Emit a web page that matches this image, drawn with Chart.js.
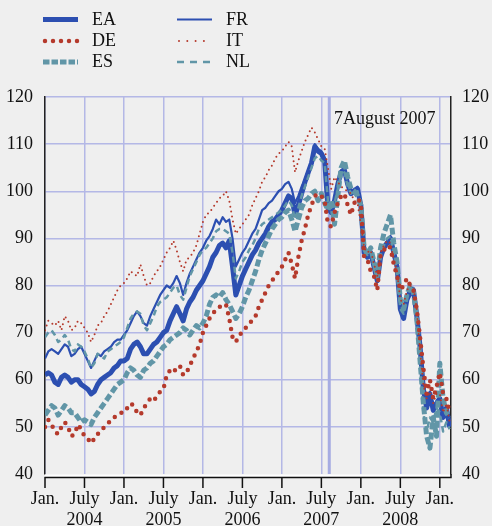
<!DOCTYPE html>
<html><head><meta charset="utf-8">
<script src="https://cdn.jsdelivr.net/npm/chart.js@4.4.1/dist/chart.umd.min.js"></script>
<style>html,body{margin:0;padding:0;background:#efefef;}#wrap{width:492px;height:526px;}</style>
</head><body><div id="wrap"><canvas id="c" width="492" height="526"></canvas></div>
<script>
// Stock price indices, values on the 1st and 16th of each month, Jan 2004 - Feb 2009
const EA = [
 61,61.5, 61,59.5, 59,60.5, 61,60.5, 59.5,60, 60,59, 58.5,58, 57,57.5, 59,60, 60.5,61, 61.5,62.5, 63,64,
 64,64.5, 66.5,67.5, 68,67, 65.5,65.5, 66.5,67.5, 68,69, 70,70.5, 72.5,74, 75.5,74, 72.5,75, 76.5,77.5, 79,80,
 81,82.5, 84,86, 87,88.5, 89,88, 89.5,84, 78,80, 82,83.5, 85,86.5, 87.5,89, 90,91, 92.5,93.5, 94,95,
 96,97.5, 99,98.5, 95,97, 99.5,102, 104,106, 109.5,108.5, 108,106.5, 96.5,95.5, 98,101.5, 104,104.5, 101.5,99.5, 100,100.5,
 97,87, 86,87, 84,81, 86,88, 89,90, 87,84, 75,73, 77,78.5, 79,73.5, 67,58, 54,57, 53.5,55,
 56,52, 54,50];
const FR = [
 64.5,66, 66.5,66, 65.5,66.5, 67.5,67, 65,65.5, 66.5,67, 65.5,64, 62.5,64, 65.5,65, 66,66.5, 67,68, 68.5,68.5,
 69.5,70.5, 72,73.5, 74.5,73.5, 72,71.5, 73.5,75, 76.5,78, 79,80, 79.5,80.5, 82,80.5, 78,80.5, 82.5,84, 85.5,87,
 88,89.5, 90.5,92, 94,93, 94.5,93.5, 94,90, 84,85.5, 87,88, 89.5,91, 92,94, 96,96.5, 97.5,98, 99,100,
 100.5,101.5, 102,100.5, 97.5,99, 101,102.5, 104.5,106.5, 110,109, 108.5,107, 97,96, 98.5,102, 104.5,105, 102,100, 100.5,101,
 97.5,87.5, 86.5,87.5, 84.5,81.5, 86.5,88.5, 89.5,90.5, 87.5,84.5, 76,74, 78,79.5, 79.5,74, 67.5,58.5, 54.5,57.5, 54,55.5,
 56.5,52.5, 54.5,50.5];
const DE = [
 50,51.5, 50.5,49, 48.5,50, 51,50, 48,48.5, 50.5,49.5, 48,47.5, 46.5,47.5, 48.5,49, 50,50.5, 51.5,52, 52.5,53,
 53,54, 55,54.5, 53,52.5, 54,55, 56,55.5, 56.5,57.5, 58,61, 62,61.5, 62.5,63, 61,61.5, 63,64.5, 66,67.5,
 70,71.5, 73,74, 75,75.5, 75.5,76, 73,69, 68,69.5, 70,71, 72,72.5, 73.5,75.5, 77,78.5, 80,81, 82,83,
 84,85.5, 87,84.5, 81.5,86, 89.5,92, 95,97, 99,99.5, 99,98, 93,92.5, 95.5,97.5, 99,99.5, 97,95, 97.5,98.5,
 97.5,86, 85.5,83, 82,79, 86.5,87.5, 88.5,88, 84.5,82, 79,80, 81.5,80, 79,75, 69,62.5, 57,60, 56,58.5,
 61.5,57, 56,53];
const IT = [
 70.5,72.5, 72,71.5, 72.5,70.5, 73.5,72.5, 70.5,71, 72.5,72, 71,70, 68,69.5, 71.5,72, 73.5,74.5, 76,77.5, 79,80,
 80.5,81.5, 83,82.5, 82,84.5, 82,80, 80.5,82, 83,84, 85.5,87, 88,89.5, 87.5,85, 83,85.5, 86,87, 88.5,91,
 93.5,95, 95.5,96.5, 97.5,98.5, 99,100, 98,94, 91,92, 93,94, 95,97, 98.5,100, 102,103, 104.5,105.5, 107,108,
 108.5,109.5, 110.5,109.5, 104,106.5, 108.5,110.5, 112,113.5, 112.5,111, 109.5,109, 105,100.5, 103,102, 101,100.5, 100,99.5, 98,97.5,
 93,88, 87,87.5, 84.5,82, 87,88.5, 89.5,89, 85.5,83, 77,76, 79,80, 79.5,75, 66,59, 56,57.5, 55,57,
 57,53, 55,51];
const ES = [
 52.5,53.5, 54.5,54, 52.5,53.5, 54.5,54, 53,53, 52,51, 51.5,51, 50.5,52, 53,54, 55,56, 57,58, 59,59.5,
 60,61.5, 62.5,62, 61,60.5, 62,62.5, 63.5,64, 65,66, 67,67.5, 68.5,69, 69.5,70, 71,70.5, 69.5,70.5, 71.5,71,
 72,73.5, 76,77.5, 78,77.5, 78.5,77, 76,74.5, 73,74, 75.5,77.5, 79,81, 83,85.5, 87.5,89, 90.5,92, 93,94,
 94.5,95.5, 96,94, 91.5,94, 96.5,98, 98.5,99.5, 100,98, 99.5,97.5, 96,98, 93,99, 105,106.5, 103,100.5, 100,99,
 97,88, 86.5,88, 85,82, 88,91, 93,95, 89,85, 77,75, 78,80, 78.5,73, 64,55, 48,45.5, 52,48,
 63.5,56, 53,52];
const NL = [
 69,70, 70.5,69.5, 68,68.5, 69.5,68.5, 66.5,66, 67.5,67, 66,64.5, 62.5,63.5, 65.5,65, 64.5,66, 66.5,67, 67.5,68,
 69,71, 73,74, 74.5,74, 71.5,70.5, 72,73.5, 75.5,76.5, 77,77.5, 78.5,79.5, 80,78, 77,79.5, 82,83.5, 85,86.5,
 87.5,88, 89,90, 91.5,92, 92,91.5, 91,87, 81.5,83, 85,86, 87.5,88.5, 90,92, 93,93.5, 94,94.5, 95,95.5,
 96,97, 98,97, 94,96.5, 99,101, 103,105, 107,107.5, 106.5,106, 98,96.5, 97.5,100.5, 103.5,104, 101,99.5, 100,100,
 96,88, 86.5,87.5, 83.5,81.5, 86.5,88.5, 90,90.5, 86.5,83, 75,74, 77.5,79, 79,73, 63,53, 49,52, 51,54,
 53,49, 51,49.5];

// x position of each observation, in months after 1 January 2004 (1st and 16th of each month)
const months = EA.map((_, i) => i / 2);
const xMax = 61.7;
const xTickMonths = [0, 6, 12, 18, 24, 30, 36, 42, 48, 54, 60];
const xTickLabels = [['Jan.',''],['July','2004'],['Jan.',''],['July','2005'],['Jan.',''],['July','2006'],
                     ['Jan.',''],['July','2007'],['Jan.',''],['July','2008'],['Jan.','']];
const yMin = 40, yMax = 120, yStep = 10;
const eventMonth = 43.2;           // 7 August 2007
const eventLabel = '7August 2007';

const BLUE = '#2c4fb1', RED = '#b53a2c', TEAL = '#6196a7';
const GRID = '#b4b8e6';
const FONT = '"Liberation Serif", "Times New Roman", serif';

const series = [
  {label:'EA', data:EA, color:BLUE, width:5,   dash:[],      cap:'butt',  legDash:[],       order:5},
  {label:'DE', data:DE, color:RED,  width:4.5, dash:[0,8],   cap:'round', legDash:[0,8],    order:0},
  {label:'ES', data:ES, color:TEAL, width:5,   dash:[7,3],   cap:'butt',  legDash:[6.5,2],  order:2},
  {label:'FR', data:FR, color:BLUE, width:2.2, dash:[],      cap:'butt',  legDash:[],       order:4},
  {label:'IT', data:IT, color:RED,  width:2,   dash:[0,5],   cap:'round', legDash:[0,8.3],  order:1},
  {label:'NL', data:NL, color:TEAL, width:2.5, dash:[6,4],   cap:'butt',  legDash:[7,6],    order:3}
];
const legendPos = [
  {x:43, y:19.5}, {x:43, y:41}, {x:43, y:62},
  {x:177, y:19.5}, {x:177, y:41}, {x:177, y:62}
];

const datasets = series.map(s => ({
  label: s.label,
  data: s.data.map((v, i) => ({x: months[i], y: v})),
  borderColor: s.color,
  borderWidth: s.width,
  borderDash: s.dash,
  borderCapStyle: s.cap,
  borderJoinStyle: 'round',
  pointRadius: 0,
  tension: 0,
  fill: false,
  order: s.order
}));

const overlay = {
  id: 'overlay',
  beforeDatasetsDraw(chart) {
    const {ctx, chartArea: a, scales: {x}} = chart;
    const px = x.getPixelForValue(eventMonth);
    ctx.save();
    ctx.strokeStyle = '#a6ace2';
    ctx.lineWidth = 3;
    ctx.beginPath(); ctx.moveTo(px, a.top); ctx.lineTo(px, a.bottom); ctx.stroke();
    ctx.restore();
  },
  afterDraw(chart) {
    const {ctx, chartArea: a, scales: {x}} = chart;
    ctx.save();
    // x axis: white gap, black line, ticks
    ctx.strokeStyle = '#ffffff'; ctx.lineWidth = 2;
    ctx.beginPath(); ctx.moveTo(a.left, a.bottom + 1.5); ctx.lineTo(a.right + 1, a.bottom + 1.5); ctx.stroke();
    ctx.strokeStyle = '#111'; ctx.lineWidth = 1.5;
    ctx.beginPath(); ctx.moveTo(a.left - 0.5, a.bottom + 3.5); ctx.lineTo(a.right + 0.75, a.bottom + 3.5);
    ctx.moveTo(a.right, a.bottom); ctx.lineTo(a.right, a.bottom + 3.5);
    xTickMonths.forEach(m => {
      const p = x.getPixelForValue(m);
      ctx.moveTo(p, a.bottom + 3); ctx.lineTo(p, a.bottom + 14);
    });
    ctx.stroke();
    // event label
    ctx.fillStyle = '#111';
    ctx.font = '18px ' + FONT;
    ctx.textAlign = 'left'; ctx.textBaseline = 'alphabetic';
    ctx.fillText(eventLabel, 334, 124);
    // legend
    series.forEach((s, i) => {
      const p = legendPos[i];
      ctx.strokeStyle = s.color;
      ctx.lineWidth = s.width;
      ctx.lineCap = s.cap;
      ctx.setLineDash(s.legDash);
      ctx.beginPath();
      const x0 = s.cap === 'round' ? p.x + 2 : p.x;
      ctx.moveTo(x0, p.y); ctx.lineTo(p.x + 35, p.y);
      ctx.stroke();
      ctx.setLineDash([]);
      ctx.fillStyle = '#111';
      ctx.textBaseline = 'middle';
      ctx.fillText(s.label, p.x + 49, p.y + 0.5);
    });
    ctx.restore();
  }
};

new Chart(document.getElementById('c'), {
  type: 'line',
  data: { datasets },
  options: {
    responsive: false,
    devicePixelRatio: 1,
    animation: false,
    layout: { padding: { top: 97, left: 0, right: 0, bottom: 0 } },
    plugins: { legend: { display: false }, tooltip: { enabled: false } },
    scales: {
      x: {
        type: 'linear', min: 0, max: xMax,
        afterBuildTicks: s => { s.ticks = xTickMonths.map(v => ({value: v})); },
        afterFit: s => { s.height = 52; },
        grid: { color: GRID, lineWidth: 1.5, drawTicks: false },
        border: { display: false },
        ticks: {
          padding: 15,
          color: '#111',
          font: { family: FONT, size: 18, lineHeight: 1.17 },
          maxRotation: 0, autoSkip: false,
          callback: (v) => xTickLabels[xTickMonths.indexOf(v)] || ''
        }
      },
      y: {
        position: 'left', min: yMin, max: yMax,
        afterFit: s => { s.width = 45; },
        grid: { color: c => c.tick.value === yMin ? 'rgba(0,0,0,0)' : GRID, lineWidth: 1.5, drawTicks: false },
        border: { display: true, color: '#222', width: 1.5 },
        ticks: { stepSize: yStep, padding: 12, color: '#111', font: { family: FONT, size: 18 } }
      },
      y2: {
        position: 'right', min: yMin, max: yMax,
        afterFit: s => { s.width = 41; },
        grid: { drawOnChartArea: false, drawTicks: false },
        border: { display: true, color: '#222', width: 1.5 },
        ticks: { stepSize: yStep, padding: 11, color: '#111', font: { family: FONT, size: 18 } }
      }
    }
  },
  plugins: [overlay]
});
</script>
</body></html>
